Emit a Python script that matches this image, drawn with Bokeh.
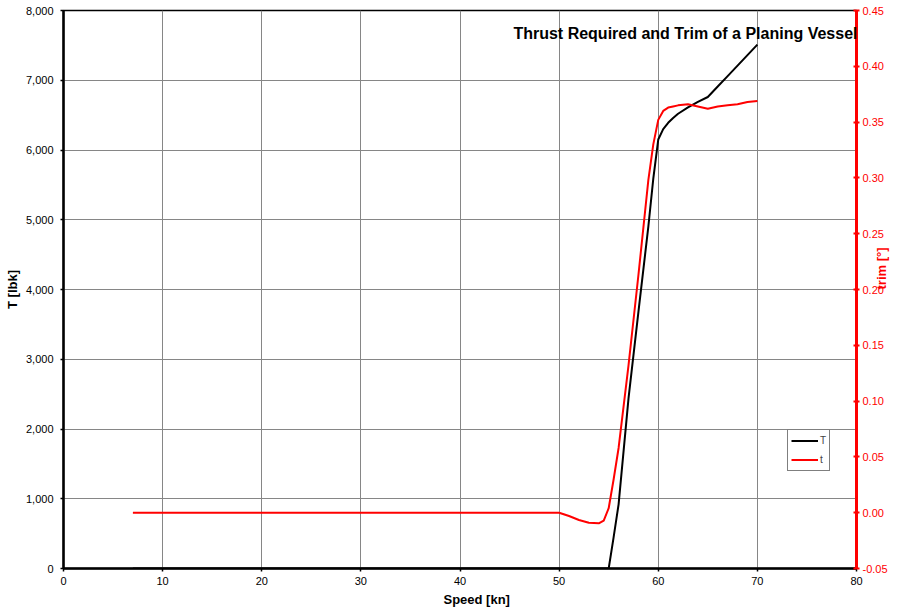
import math
from bokeh.plotting import figure
from bokeh.models import (Range1d, LinearAxis, SingleIntervalTicker, NumeralTickFormatter,
                          Legend, LegendItem, Label, Title)
from bokeh.embed import file_html
from bokeh.resources import INLINE

# ---- data ----
speed = [7, 10, 15, 20, 25, 30, 35, 40, 45, 50, 51, 52, 53, 54, 54.5, 55, 55.5, 56, 57, 58,
         59, 59.5, 60, 60.5, 61, 61.5, 62, 63, 64, 65, 66, 67, 68, 69, 70]
thrust = [0, 0, 0, 0, 0, 0, 0, 0, 0, 0, 0, 0, 0, 0, 0, 0, 450, 920, 2440, 3680,
          4900, 5590, 6150, 6300, 6390, 6460, 6520, 6610, 6690, 6760, 6910, 7060, 7210, 7360, 7510]
trim = [0, 0, 0, 0, 0, 0, 0, 0, 0, 0, -0.003, -0.0065, -0.009, -0.0095, -0.007, 0.004, 0.030, 0.058,
        0.132, 0.213, 0.298, 0.330, 0.352, 0.360, 0.363, 0.364, 0.365, 0.366, 0.364, 0.362,
        0.364, 0.365, 0.366, 0.368, 0.369]

x_min, x_max, x_step = 0, 80, 10
t_min, t_max, t_step = 0, 8000, 1000
r_min, r_max, r_step = -0.05, 0.45, 0.05

title_text = "Thrust Required and Trim of a Planing Vessel"
x_label = "Speed [kn]"
y_label = "T [lbk]"
y2_label = "trim [°]"

FONT = "Liberation Sans"
RED = "#FF0000"
GRID = "#868686"

p = figure(width=899, height=611, output_backend="svg", toolbar_location=None,
           x_range=Range1d(x_min, x_max), y_range=Range1d(t_min, t_max),
           min_border_left=63, min_border_right=42, min_border_top=10, min_border_bottom=43,
           background_fill_color="white", border_fill_color="white")
p.extra_y_ranges = {"trim": Range1d(r_min, r_max)}
p.outline_line_color = "black"
p.outline_line_width = 1.5

# grids
p.xgrid.ticker = SingleIntervalTicker(interval=x_step, num_minor_ticks=0)
p.ygrid.ticker = SingleIntervalTicker(interval=t_step, num_minor_ticks=0)
p.grid.grid_line_color = GRID
p.grid.grid_line_width = 1

# bottom axis
xa = p.xaxis[0]
xa.ticker = SingleIntervalTicker(interval=x_step, num_minor_ticks=0)
xa.axis_line_width = 2.5
xa.axis_line_color = "black"
xa.major_tick_line_color = "black"
xa.major_tick_line_width = 1.5
xa.major_tick_in = 0
xa.major_tick_out = 3
xa.minor_tick_line_color = None
xa.major_label_standoff = 5
xa.major_label_text_font = FONT
xa.major_label_text_font_size = "11px"
xa.major_label_text_color = "black"

# x axis title (Excel places it slightly right of the plot-area centre)
p.add_layout(Title(text=x_label, align="left", offset=380, standoff=4,
                   text_font=FONT, text_font_size="13px", text_font_style="bold",
                   text_color="black"), "below")

# left axis
ya = p.yaxis[0]
ya.ticker = SingleIntervalTicker(interval=t_step, num_minor_ticks=0)
ya.formatter = NumeralTickFormatter(format="0,0")
ya.axis_line_width = 2.5
ya.axis_line_color = "black"
ya.major_tick_line_color = "black"
ya.major_tick_line_width = 1.5
ya.major_tick_in = 0
ya.major_tick_out = 3
ya.minor_tick_line_color = None
ya.major_label_standoff = 7
ya.major_label_text_font = FONT
ya.major_label_text_font_size = "11px"
ya.major_label_text_color = "black"
ya.axis_label = y_label
ya.axis_label_text_font = FONT
ya.axis_label_text_font_style = "bold"
ya.axis_label_text_font_size = "13px"
ya.axis_label_text_color = "black"
ya.axis_label_standoff = 3

# right axis
ra = LinearAxis(y_range_name="trim",
                ticker=SingleIntervalTicker(interval=r_step, num_minor_ticks=0),
                formatter=NumeralTickFormatter(format="0.00"))
ra.axis_line_color = RED
ra.axis_line_width = 3
ra.major_tick_line_color = RED
ra.major_tick_line_width = 2
ra.major_tick_in = 3
ra.major_tick_out = 3
ra.minor_tick_line_color = None
ra.major_label_standoff = 3
ra.major_label_text_font = FONT
ra.major_label_text_font_size = "11px"
ra.major_label_text_color = RED
ra.axis_label = y2_label
ra.axis_label_text_font = FONT
ra.axis_label_text_font_style = "bold"
ra.axis_label_text_font_size = "13px"
ra.axis_label_text_color = RED
ra.axis_label_standoff = -9
if "axis_label_orientation" in ra.properties():
    ra.axis_label_orientation = -1.5 * math.pi
p.add_layout(ra, "right")

# series
r_t = p.line(speed, thrust, line_color="black", line_width=2, line_join="round")
r_r = p.line(speed, trim, line_color=RED, line_width=2, line_join="round", y_range_name="trim")

# legend
legend = Legend(items=[LegendItem(label="T", renderers=[r_t]),
                       LegendItem(label="t", renderers=[r_r])],
                location=(724, 97), orientation="vertical",
                background_fill_color="white", background_fill_alpha=1,
                border_line_color="black", border_line_width=1,
                label_text_font=FONT, label_text_font_size="10px",
                glyph_width=27, glyph_height=15, label_height=15, label_width=0,
                label_standoff=2, padding=3, spacing=4, margin=0)
p.add_layout(legend, "center")

# title inside the plot, right aligned
p.add_layout(Label(x=x_max, y=t_max, x_offset=1, y_offset=-23, text=title_text,
                   text_align="right", text_baseline="middle", text_font=FONT,
                   text_font_size="16px", text_font_style="bold", text_color="black"))

open("out.html", "w").write(file_html(p, INLINE))
